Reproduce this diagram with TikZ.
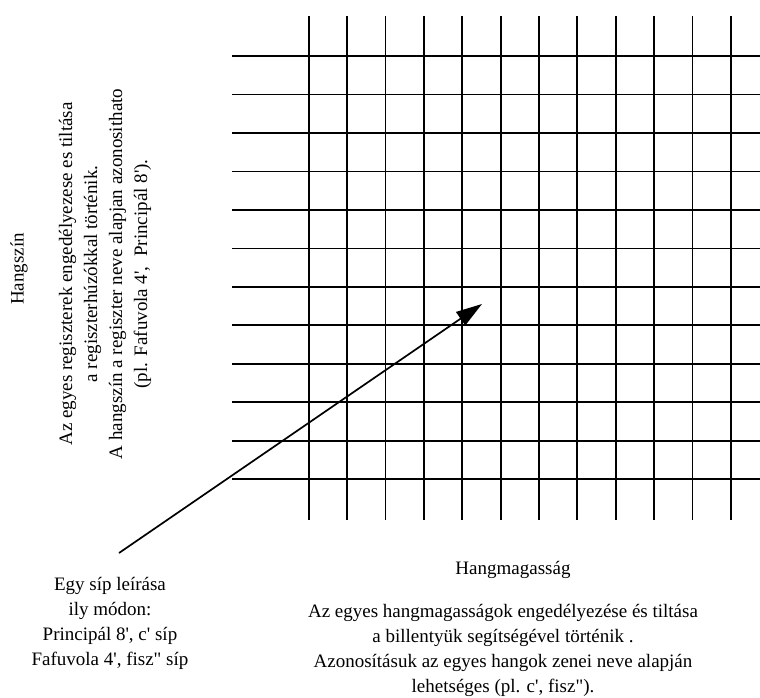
\documentclass[tikz,border=0pt]{standalone}
\usepackage{fontspec}
\setmainfont{Liberation Serif}[Ligatures=TeXOff]
\usetikzlibrary{arrows.meta}
\begin{document}
\begin{tikzpicture}[x=1pt,y=-1pt,
  gridline/.style={line width=1.8pt,black},
  txt/.style={inner sep=0pt,font=\fontsize{19}{25}\selectfont,align=center},
  pointer/.style={line width=1.7pt,-{Triangle[length=26pt,width=16pt]}}]
\useasboundingbox (0,0) rectangle (760,698);
% register x pitch grid
\foreach \i in {0,...,11} {
  \draw[gridline] (308.8+38.36*\i,16.5) -- (308.8+38.36*\i,520);
  \draw[gridline] (232,56.1+38.46*\i) -- (760,56.1+38.46*\i);
}
% axis titles and explanations
\node[txt,rotate=90] (timbre) at (19,269) {Hangszín};
\node[txt,rotate=90] (timbredesc) at (105,274)
  {Az egyes regiszterek engedélyezese es tiltása\\
   a regiszterhúzókkal történik.\\
   A hangszín a regiszter neve alapjan azonosithato\\
   (pl. Fafuvola 4',\ \ Principál 8').};
\node[txt,anchor=base] (pitch) at (513,574) {Hangmagasság};
\node[txt] (pitchdesc) at (503,650)
  {Az egyes hangmagasságok engedélyezése és tiltása\\
   a billentyük segítségével történik .\\
   Azonosításuk az egyes hangok zenei neve alapján\\
   lehetséges (pl. c', fisz").};
\node[txt] (pipe) at (110,623)
  {Egy síp leírása\\
   ily módon:\\
   Principál 8', c' síp\\
   Fafuvola 4', fisz" síp};
% pointer from the pipe description into the grid
\coordinate (from) at (119,553);
\coordinate (cell) at (482,304);
\draw[pointer] (from) -- (cell);
\end{tikzpicture}
\end{document}
